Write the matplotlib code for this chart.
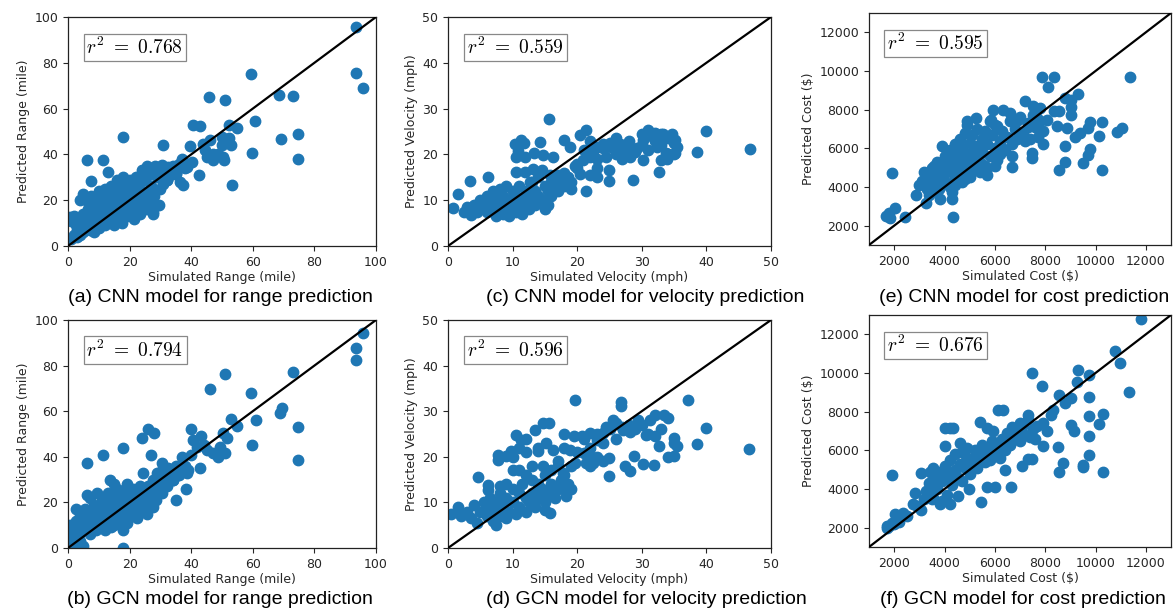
import matplotlib
matplotlib.use("Agg")
import matplotlib.pyplot as plt

# ---------------- data ----------------
cnn_range = [
    (93.6, 95.6), (93.6, 75.5), (95.8, 69), (59.4, 75), (45.9, 65), (51.1, 63.9), (68.4, 66), (73, 65.6),
    (60.8, 54.4), (59.9, 40.6), (69.2, 46.7), (74.6, 49), (74.6, 37.8), (53.1, 26.8), (54.8, 51.5), (52.2, 53),
    (40.5, 52.7), (42.8, 52.3), (39.6, 43.5), (42.6, 31.1), (30.9, 44), (17.9, 47.6), (6.2, 37.7), (11.3, 37.7),
    (13.1, 32.3), (7.4, 28.2), (50.8, 37.4), (49.9, 47.6), (51, 46), (52.3, 47), (49.9, 44), (45, 38.9),
    (47.2, 37.4), (48.8, 40), (44.5, 41.8), (46.1, 46.1), (43.7, 44.4), (38.5, 34.5), (36.9, 36), (40.1, 36.7),
    (34.7, 31.6), (36.3, 28), (32.5, 34.5), (30.4, 35.2), (28.2, 34.8), (25.5, 34.9), (32, 28.7), (27.7, 14.8),
    (35.1, 31.6), (37.2, 26.5), (36.7, 34.5), (47, 40), (50.2, 39), (52.9, 44),
    (0.5, 12.5), (1, 11), (2, 13), (2.5, 9), (3, 7), (3.5, 10), (4, 5), (4, 12), (4.5, 8), (5, 6), (5, 14),
    (5.5, 11), (6, 9), (6, 20), (6.5, 16), (7, 7), (7, 13), (7.5, 22), (8, 10), (8, 18), (8.5, 6), (9, 12),
    (9, 15), (9.5, 20), (10, 8), (10, 24), (10.5, 14), (11, 11), (11, 17), (11.5, 21), (12, 9), (12, 19),
    (12.5, 13), (13, 16), (13, 24), (13.5, 11), (14, 18), (14, 21), (14.5, 14), (15, 9), (15, 25), (15.5, 17),
    (16, 12), (16, 20), (16.5, 23), (17, 15), (17, 27), (17.5, 10), (18, 19), (18, 22), (18.5, 25), (19, 13),
    (19, 17), (19.5, 28), (20, 21), (20, 24), (20.5, 15), (21, 19), (21, 27), (21.5, 12), (22, 22), (22, 25),
    (22.5, 17), (23, 20), (23.5, 14), (24, 24), (24, 18), (25, 21), (25, 29), (25.5, 16), (26, 23), (26.5, 19),
    (27, 26), (27.5, 14), (28, 22), (28, 34), (29, 30), (29.5, 18), (30, 25), (30.5, 33), (31, 27), (32, 29),
    (33, 31), (34, 35), (35, 32), (36, 36), (37, 38), (38, 34), (1, 3), (2, 5), (3, 4), (4.9, 22.9), (3.8, 20),
    (14, 26), (16, 29), (18, 30), (20, 29), (22, 30), (12, 25), (23, 28), (26, 31), (24, 33),
]

gcn_range = [
    (95.8, 94.2), (93.6, 87.6), (93.6, 82.5), (73, 77.4), (51.1, 76.4), (46.1, 69.8), (59.4, 68.2),
    (68.7, 59.1), (69.4, 61.3), (61.1, 56.2), (52.8, 56.6), (54.8, 53.6), (74.6, 53), (59.9, 45.3), (74.6, 38.7),
    (39.9, 52.3), (43.2, 49.2), (42.8, 35), (26, 52.2), (27.9, 50.5), (23.9, 48.2), (17.9, 43.8), (11.4, 41),
    (6.2, 37.2), (24.4, 32.8), (27.1, 40.9), (30.4, 37.2), (28.9, 32.8), (13.6, 29.9), (2.5, 17.2), (6.2, 23.4),
    (17.9, 0), (1.6, 1.5), (35, 21.2), (38.2, 25.8), (50.9, 41.6), (51.5, 48.2), (50.2, 50.4), (49.3, 44.5),
    (45, 43.1), (47.2, 41.6), (48.8, 40.1), (44.2, 45.3), (41.8, 44.5), (40.7, 47.4), (34.2, 29.9), (36.3, 33.6),
    (38.5, 32.8), (32.5, 35), (30.9, 33.6), (32, 27), (27.7, 18.2), (23.3, 22.6),
    (0.5, 10), (1, 7), (2, 4), (2.5, 12), (3, 9), (3.5, 6), (4, 3), (4, 14), (4.5, 11), (5, 8), (5, 1),
    (5.5, 17), (6, 13), (6.5, 10), (7, 22), (7, 6), (7.5, 15), (8, 11), (8.5, 19), (9, 8), (9, 14), (9.5, 24),
    (10, 12), (10.5, 17), (11, 9), (11, 21), (11.5, 14), (12, 18), (12.5, 11), (13, 15), (13, 24), (13.5, 20),
    (14, 13), (14.5, 17), (15, 10), (15, 22), (15.5, 15), (16, 19), (16, 26), (16.5, 12), (17, 17), (17.5, 23),
    (18, 8), (18, 14), (18.5, 20), (19, 25), (19, 11), (19.5, 17), (20, 22), (20.5, 14), (21, 19), (21, 26),
    (21.5, 16), (22, 23), (22.5, 13), (23, 20), (23.5, 27), (24, 17), (24.5, 24), (25, 21), (25.5, 15), (26, 27),
    (26.5, 22), (27, 19), (27.5, 30), (28, 25), (28.5, 21), (29, 28), (30, 32), (30.5, 24), (31, 35), (32, 29),
    (33, 33), (34, 30), (35, 36), (36, 32), (37, 40), (38, 36), (39, 34), (40, 41),
    (15, 28), (17, 25), (19, 28), (21, 23), (23, 24), (25, 25), (20, 18), (22, 17), (14, 9), (12, 8),
]

cnn_velocity = [
    (15.65, 27.8), (39.9, 25.1), (46.7, 21.1), (38.6, 20.5), (32.6, 16.2), (32.9, 18.7), (33.9, 19.1),
    (30.2, 18.7), (28.7, 14.5), (24.9, 16.5), (24.9, 14.3), (21.4, 12), (1.6, 11.3), (0.8, 8.2), (3.4, 14.2),
    (6.2, 15.1), (10.8, 20.7), (11.3, 23.1), (11.7, 22.5), (10.3, 22.3), (10.6, 19.4), (11.9, 19.4), (13.3, 20.2),
    (14.2, 22.7), (14.7, 19.8), (16.3, 19.4), (10.6, 16.2), (11.9, 16.2), (13.2, 16.9), (14.5, 16.5), (12.7, 14),
    (15.8, 15.4), (18.9, 21.6), (18, 23.1), (20.4, 24.2), (21.3, 25.4), (19.9, 18), (20.9, 18.7), (22, 19.4),
    (22.4, 20.5), (23, 21.6), (24, 22.3), (25.3, 21.6), (26.6, 22.3), (27.1, 20.2), (28.1, 19.4), (29.2, 21.3),
    (30.2, 23.1), (31, 25.3), (31.8, 23.8), (33.3, 24.5), (34.6, 24.5), (35.1, 23.1), (35.4, 21.6), (35.1, 20.2),
    (33.8, 20.2), (32.3, 21.6), (32, 24.7), (20.4, 15.8), (22, 15.4), (23, 15.1), (19.6, 17.5), (24.5, 19.4),
    (26.1, 20.5), (27.6, 21.6), (28.4, 20.5),
    (20, 17), (21, 21), (22, 23), (23, 19), (24, 21.5), (25, 22.5), (26, 20), (27, 22), (28, 23), (29, 20.5),
    (30, 22), (31, 21), (32, 23), (33, 22), (34, 20), (35, 22.5), (23, 17), (22, 20.5), (26, 23.5), (27, 19),
    (30, 24.5), (33, 24.5), (34, 23.5), (35, 20),
    (2.5, 7.5), (3, 8.5), (3.5, 6.8), (4, 9), (4.5, 7.5), (5, 10), (5, 8), (5.5, 9), (6, 7.5), (6, 11),
    (6.5, 9.5), (7, 8), (7, 12), (7.5, 6.5), (7.5, 10), (8, 9), (8, 12.5), (8.5, 7), (8.5, 11), (9, 8), (9, 13),
    (9.5, 10), (9.5, 6.5), (10, 9), (10, 12), (10.5, 7.5), (10.5, 11), (11, 8.5), (11, 13), (11.5, 10),
    (11.5, 7), (12, 9), (12, 12), (12.5, 11), (12.5, 8), (13, 10), (13, 14), (13.5, 9), (13.5, 12), (14, 11),
    (14, 15), (14.5, 10), (15, 13), (15, 8), (15.5, 12), (15.5, 9), (16, 14), (16, 11), (16.5, 13), (17, 12),
    (17, 15.5), (17.5, 14), (18, 13), (18, 16), (18.5, 15), (19, 14), (19, 12.5),
]

gcn_velocity = [
    (46.6, 21.7), (39.9, 26.4), (38.6, 22.8), (37.2, 32.5), (19.7, 32.5), (26.8, 32.1), (26.8, 31.2),
    (14.7, 27.5), (15.6, 27.5), (13.4, 25.9), (10.5, 24.8), (11.3, 23.7), (12.1, 23.9), (9.8, 21.2), (9, 20.1),
    (7.75, 20.4), (7.75, 19.3), (6.2, 13.9), (6.2, 12.8), (4.6, 15.5), (8, 13.7), (14.7, 17.9), (13.9, 21.2),
    (15.2, 23), (16.3, 21.5), (17.9, 25), (19.5, 24.5), (22, 20.1), (21, 20.8), (22.5, 18.6), (24.9, 19.7),
    (24.9, 15.8), (27.4, 17.9), (28.1, 16.8), (28.8, 20.1), (30.2, 18.5), (31.9, 18.1), (31.3, 28.1), (32, 29.2),
    (33.4, 29.2), (29.4, 28.1), (30.7, 24.8), (32, 24.5), (32.7, 22.3), (35, 20.1), (35.5, 22.3), (35, 24.1),
    (24.5, 26.6), (25.6, 28.1), (27.1, 25.9), (28.1, 25.5), (24, 25.2), (23, 23.7), (22, 25.2), (20.7, 24.5),
    (19.7, 18.6), (21.4, 18.6), (18.9, 21.5), (18.3, 12.8), (18.3, 11.3), (17.8, 16.4), (15.8, 7.7), (15, 8.4),
    (14.2, 11.3),
    (20, 21), (21, 24), (22, 22), (23, 25), (24, 23), (25, 26), (26, 24), (27, 26.5), (28, 27), (29, 26),
    (26, 27.5), (30, 27), (31, 25), (33, 26), (34, 28.5), (35, 23), (34, 20), (18, 22), (17, 19), (19, 18),
    (22, 18), (23, 20), (24, 19),
    (0.5, 7.5), (1.5, 9), (2, 7), (3, 8), (3.5, 6.5), (4, 9.5), (4.5, 5.5), (5, 8), (5.5, 10), (6, 7), (6, 9),
    (6.5, 11), (7, 6), (7, 8.5), (7.5, 5), (7.5, 10), (8, 7), (8, 12), (8.5, 9), (9, 6.5), (9, 11), (9.5, 8),
    (10, 10), (10, 13), (10.5, 7.5), (11, 9), (11, 12), (11.5, 14), (12, 8), (12, 11), (12.5, 10), (13, 12),
    (13, 15), (13.5, 9), (14, 11), (14, 14), (14.5, 13), (15, 10), (15, 16), (15.5, 12), (16, 14), (16, 17),
    (16.5, 11), (17, 13), (17, 18), (17.5, 15), (18, 16), (18.5, 14), (19, 13), (12, 16), (9, 14), (11, 17),
    (13, 18), (10, 20), (12, 21), (14, 22), (11, 22), (10, 17),
]

cnn_cost = [
    (11380, 9690), (7860, 9690), (8350, 9690), (8100, 9170), (8790, 8600), (9300, 8810), (9030, 8510),
    (9030, 8130), (9030, 7740), (8530, 7910), (8370, 7910), (8490, 7170), (8860, 7040), (9190, 6610),
    (9390, 6790), (9720, 7040), (9800, 7340), (10250, 7340), (10120, 6650), (10850, 6820), (11050, 7040),
    (9800, 5970), (9720, 5660), (9520, 5230), (10250, 4890), (8770, 5280), (8550, 4890), (8770, 6130),
    (7930, 6230), (7460, 5750), (7460, 5490), (6690, 5060), (6690, 5610), (6070, 5840), (6270, 6010),
    (5670, 4630), (5270, 5060), (5140, 5840), (4280, 3760), (4280, 3370), (4350, 2470), (3810, 3370),
    (3280, 3160), (2880, 3590), (4680, 4280), (4880, 4710), (1930, 4710), (1690, 2500), (1800, 2640),
    (2020, 2900), (1820, 2380), (2420, 2430), (5270, 7560), (4880, 7390), (5940, 7960), (6310, 7990),
    (6600, 7820), (7200, 8430), (7530, 8200), (7800, 8080), (6930, 7480), (7330, 7300), (7660, 7560),
    (8060, 7480), (5850, 7440), (6070, 7130),
    (3100, 4300), (3200, 4800), (3300, 3900), (3400, 4500), (3500, 5000), (3500, 4100), (3600, 4700),
    (3700, 5300), (3700, 3800), (3800, 4400), (3900, 5000), (3900, 6100), (4000, 4700), (4000, 5600),
    (4100, 5200), (4100, 4200), (4200, 5900), (4300, 4800), (4300, 5500), (4400, 6200), (4400, 4500),
    (4500, 5100), (4500, 5800), (4600, 6500), (4600, 4700), (4700, 5400), (4700, 6000), (4800, 5000),
    (4800, 6800), (4900, 5700), (4900, 7200), (5000, 5300), (5000, 6300), (5100, 6700), (5100, 4900),
    (5200, 5600), (5300, 6100), (5300, 7000), (5400, 5300), (5500, 6500), (5500, 5800), (5600, 6900),
    (5600, 5100), (5700, 6200), (5800, 7400), (5800, 5600), (5900, 6700), (6000, 6000), (6000, 7200),
    (6100, 5400), (6200, 6400), (6300, 6900), (6400, 5900), (6500, 6600), (6600, 7400), (6700, 6200),
    (6800, 7000), (6900, 6500), (7000, 7600), (7100, 6800), (7200, 6400), (7300, 7100), (7400, 6500),
    (7500, 7700), (7600, 7100), (7700, 6600), (7800, 7400), (7900, 6900), (3300, 4600), (3600, 5100),
    (4200, 4000), (4600, 5500), (5200, 6000), (5000, 4500), (5700, 5000), (6200, 5700),
    (3000, 4100), (3400, 3600), (3800, 3900), (4400, 4100), (4800, 4400), (5400, 4800), (6000, 5100),
]

gcn_cost = [
    (11820, 12770), (10780, 11160), (10980, 10540), (11350, 9040), (7460, 10020), (9300, 10160),
    (9760, 9900), (9260, 9510), (7860, 9340), (8560, 8840), (9030, 8700), (8790, 8440), (9760, 8740),
    (9750, 7760), (10280, 7880), (10120, 7380), (9030, 7330), (9150, 6980), (9760, 6730), (9760, 5780),
    (9500, 5230), (9500, 5130), (10280, 4890), (8710, 5350), (8550, 4870), (8500, 6180), (7930, 6240),
    (7330, 5560), (7490, 5560), (6640, 4110), (6000, 4110), (5670, 4110), (5450, 3320), (6400, 4970),
    (7070, 5170), (6140, 8100), (6340, 8100), (4010, 7150), (4210, 7150), (4350, 7150), (4010, 6240),
    (5020, 5560), (1930, 4750), (1720, 2080), (1900, 2260), (2020, 2690), (2350, 2770), (2750, 3200),
    (3080, 2900), (2820, 3800), (3280, 3890), (3550, 3550), (3810, 3250), (4210, 3250), (4540, 3630),
    (3080, 4830), (3420, 4870), (3550, 5090), (4960, 4010), (4600, 6380), (5400, 7450), (5700, 7150),
    (5940, 6980), (6990, 7410), (7330, 7840), (7660, 7240), (7930, 7410), (8060, 6980), (8220, 7840),
    (8330, 8100),
    (3300, 3800), (3400, 4300), (3500, 3500), (3600, 4600), (3700, 4000), (3800, 4900), (3900, 3400),
    (3900, 4400), (4000, 5200), (4100, 3700), (4100, 4700), (4200, 5500), (4300, 4200), (4400, 5000),
    (4400, 5800), (4500, 4600), (4600, 5300), (4700, 5900), (4700, 4400), (4800, 5100), (4900, 5600),
    (4900, 6100), (5000, 4800), (5100, 5400), (5200, 6000), (5300, 5100), (5400, 5700), (5500, 6300),
    (5600, 5400), (5700, 6000), (5800, 5500), (5900, 6500), (6000, 5800), (6100, 6200), (6200, 5600),
    (6300, 6600), (6400, 6000), (6500, 6900), (6600, 6300), (6700, 7200), (6800, 6600), (6900, 7000),
    (7000, 6500), (7100, 7300), (7200, 6800), (7300, 7600), (7400, 6700), (7500, 7100), (7600, 6600),
    (3200, 3500), (3600, 4200), (4200, 4500), (4800, 5400), (5400, 5900), (6000, 6200), (6600, 6700),
    (2200, 2300), (2500, 2600), (2900, 3100), (1800, 2100), (1700, 2000), (2000, 2200),
]

r2_values = ["0.768", "0.794", "0.559", "0.596", "0.595", "0.676"]
captions = [
    "(a) CNN model for range prediction", "(b) GCN model for range prediction",
    "(c) CNN model for velocity prediction", "(d) GCN model for velocity prediction",
    "(e) CNN model for cost prediction", "(f) GCN model for cost prediction",
]
x_labels = ["Simulated Range (mile)", "Simulated Velocity (mph)", "Simulated Cost ($)"]
y_labels = ["Predicted Range (mile)", "Predicted Velocity (mph)", "Predicted Cost ($)"]
range_ticks = [0, 20, 40, 60, 80, 100]
velocity_ticks = [0, 10, 20, 30, 40, 50]
cost_ticks = [2000, 4000, 6000, 8000, 10000, 12000]

# ---------------- figure ----------------
plt.rcParams['mathtext.fontset'] = 'cm'
W, H = 1173, 611
fig = plt.figure(figsize=(W / 100, H / 100), dpi=100)
TXT = '#262626'

def px_axes(left, top, right, bottom):
    return fig.add_axes([left / W, (H - bottom) / H, (right - left) / W, (bottom - top) / H])

panels = [
    (cnn_range, r2_values[0], captions[0], x_labels[0], y_labels[0], (0, 100), range_ticks, (68, 17, 376, 246), 220, 297),
    (gcn_range, r2_values[1], captions[1], x_labels[0], y_labels[0], (0, 100), range_ticks, (68, 320, 376, 548), 220, 599),
    (cnn_velocity, r2_values[2], captions[2], x_labels[1], y_labels[1], (0, 50), velocity_ticks, (448, 17, 771, 246), 645, 297),
    (gcn_velocity, r2_values[3], captions[3], x_labels[1], y_labels[1], (0, 50), velocity_ticks, (448, 320, 771, 548), 646, 599),
    (cnn_cost, r2_values[4], captions[4], x_labels[2], y_labels[2], (1000, 13000), cost_ticks, (869, 13, 1171, 245), 1024, 297),
    (gcn_cost, r2_values[5], captions[5], x_labels[2], y_labels[2], (1000, 13000), cost_ticks, (869, 315, 1171, 547), 1023, 599),
]

for pts, r2, cap, xl, yl, lim, ticks, box, cx, cy in panels:
    ax = px_axes(*box)
    xs = [p[0] for p in pts]
    ys = [p[1] for p in pts]
    ax.scatter(xs, ys, s=56, color='#1f77b4', zorder=2, clip_on=True)
    ax.plot(lim, lim, color='black', lw=1.6, zorder=3)
    ax.set_xlim(lim)
    ax.set_ylim(lim)
    ax.set_xticks(ticks)
    ax.set_yticks(ticks)
    ax.tick_params(labelsize=9, colors=TXT, length=3.5, width=0.8)
    ax.set_xlabel(xl, fontsize=9, color=TXT, labelpad=2)
    ax.set_ylabel(yl, fontsize=9, color=TXT, labelpad=3)
    for sp in ax.spines.values():
        sp.set_color('#222222')
        sp.set_linewidth(0.9)
    ax.text(0.06, 0.915, r'$r^2\ =\ %s$' % r2, transform=ax.transAxes, ha='left', va='top',
            fontsize=14, color='black',
            bbox=dict(boxstyle='square,pad=0.15', facecolor='white', edgecolor='#888888', linewidth=0.9),
            zorder=5)
    fig.text(cx / W, (H - cy) / H, cap, ha='center', va='center', fontsize=14,
             family='Liberation Sans', color='black')

fig.savefig('out.png', dpi=100)
